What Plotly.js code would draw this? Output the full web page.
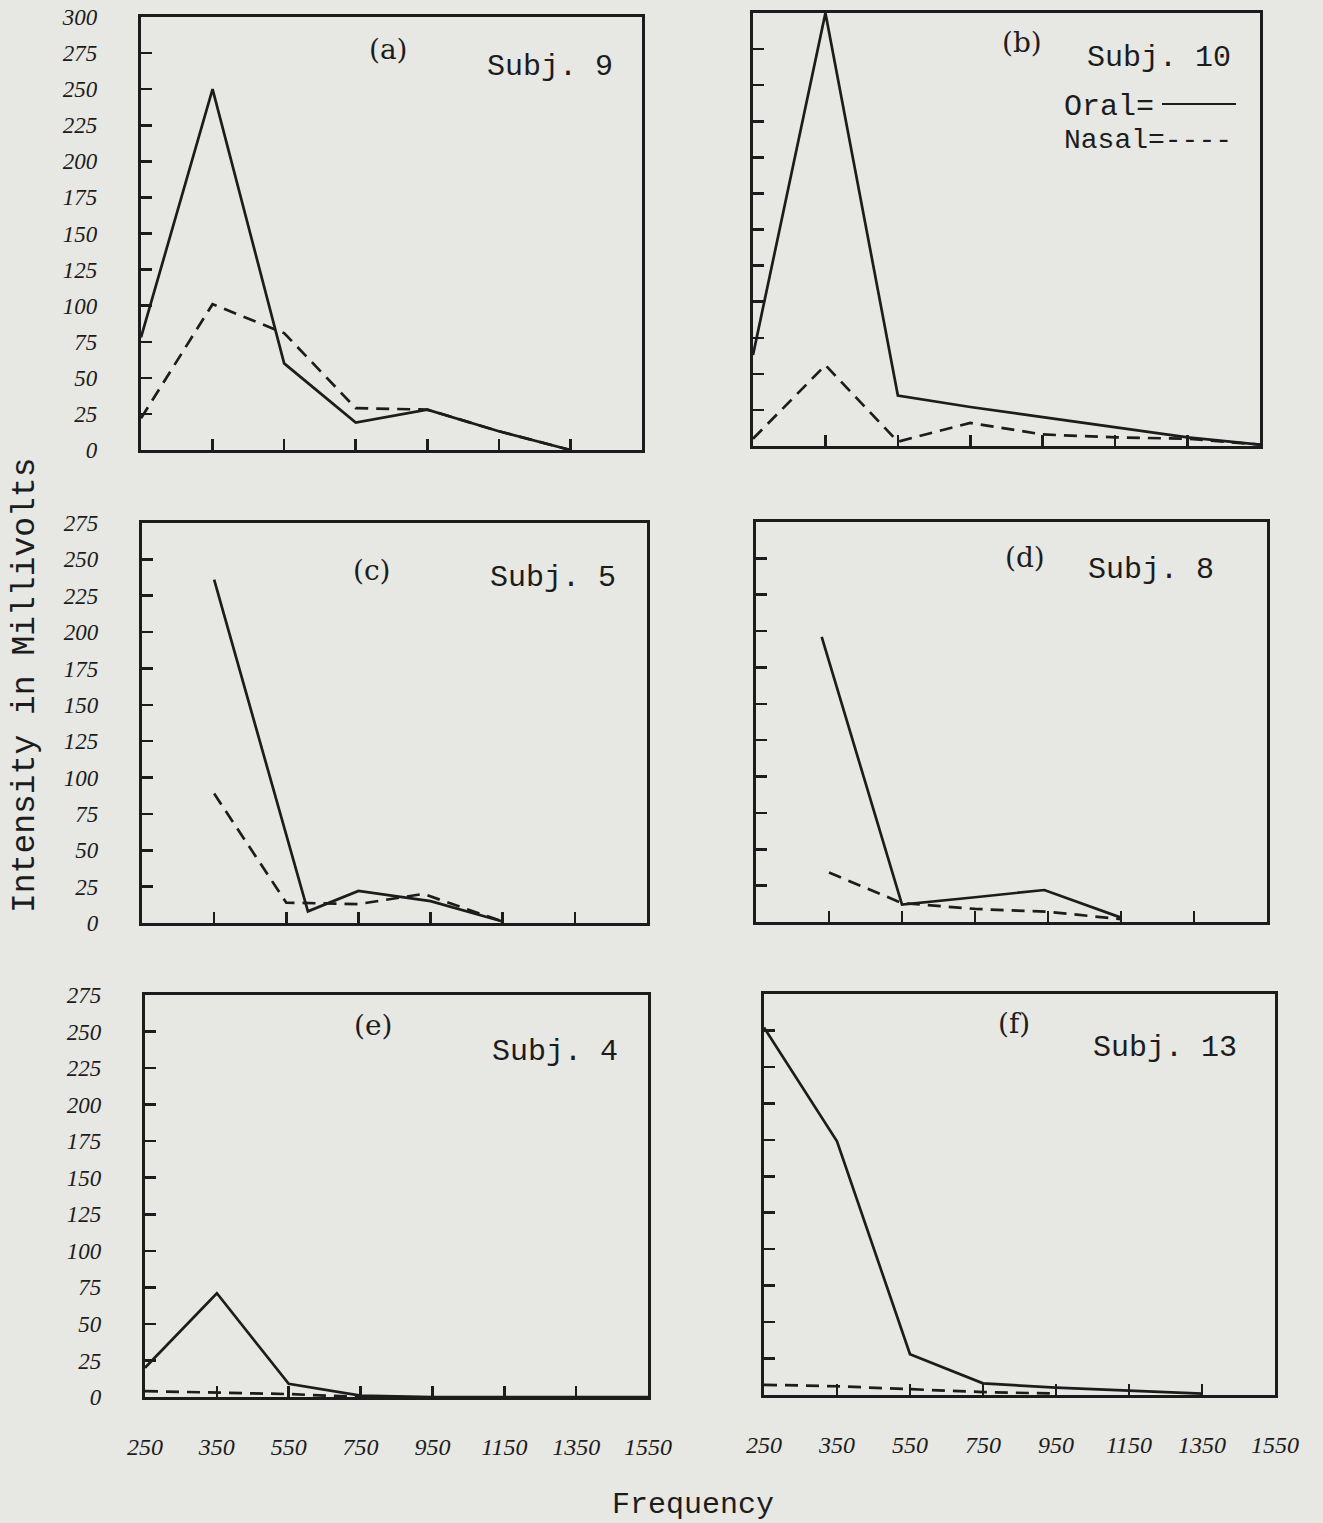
<!DOCTYPE html>
<html><head><meta charset="utf-8">
<script src="https://cdn.plot.ly/plotly-3.0.1.min.js"></script>
<style>html,body{margin:0;padding:0;background:#e7e7e3;}</style>
</head><body><div id="chart" style="width:1323px;height:1523px;"></div>
<script>
// ---- data (x given as position index on the frequency scale) ----
const freqLabels = ['250','350','550','750','950','1150','1350','1550'];
const yTicks300 = [0,25,50,75,100,125,150,175,200,225,250,275,300];
const yTicks275 = [0,25,50,75,100,125,150,175,200,225,250,275];

const oralA_x  = [0,1,2,3,4,5,6];
const oralA    = [78,250,60,19,28,13,0];
const nasalA_x = [0,1,2,3,4,5,6];
const nasalA   = [22,101,81,29,28,13,0];

const oralB_x  = [0,1,2,3,4,5,6,7];
const oralB    = [63,300,35,27,20,13,6,1];
const nasalB_x = [0,1,2,3,4,5,6,7];
const nasalB   = [5,56,3,16,8,6,5,1];

const oralC_x  = [1,2.3,3,4,5];
const oralC    = [236,8,22,15,1];
const nasalC_x = [1,2,3,3.9,5];
const nasalC   = [89,14,13,20,1];

const oralD_x  = [0.9,2,3,3.95,5];
const oralD    = [196,12,17,22,3];
const nasalD_x = [1,2,3,4,5];
const nasalD   = [34,13,9,7,2];

const oralE_x  = [0,1,2,3,4,5,6,7];
const oralE    = [20,71,9,1,0,0,0,0];
const nasalE_x = [0,1,2,3];
const nasalE   = [4,3,2,0];

const oralF_x  = [0,1,2,3,4,5,6];
const oralF    = [252,174,28,8,5,3,1];
const nasalF_x = [0,1,2,3,4];
const nasalF   = [7,6,4,2,1];

const panelNames = ['(a)','(b)','(c)','(d)','(e)','(f)'];
const subjNames  = ['Subj. 9','Subj. 10','Subj. 5','Subj. 8','Subj. 4','Subj. 13'];

// ---- layout helpers ----
const W = 1323, H = 1523;
const ink = '#1c1c1c';
const px = v => v / W;
const py = v => 1 - v / H;

const boxes = [
  [141, 642, 17, 450],
  [753, 1260, 13, 446],
  [142, 647, 523, 923],
  [756, 1267, 522, 922],
  [145, 648, 995, 1397],
  [764, 1275, 994, 1395]
];
const ymax = [300, 300, 275, 275, 275, 275];
const series = [
  [oralA_x, oralA, nasalA_x, nasalA],
  [oralB_x, oralB, nasalB_x, nasalB],
  [oralC_x, oralC, nasalC_x, nasalC],
  [oralD_x, oralD, nasalD_x, nasalD],
  [oralE_x, oralE, nasalE_x, nasalE],
  [oralF_x, oralF, nasalF_x, nasalF]
];

const yTickFont = {family: 'Liberation Serif', size: 23, color: ink, style: 'italic'};
const xTickFont = {family: 'Liberation Serif', size: 24, color: ink, style: 'italic'};
const monoFont = {family: 'Liberation Mono', size: 30, color: ink};
const handFont = {family: 'DejaVu Serif', size: 28, color: ink};

const data = [];
const layout = {
  width: W, height: H,
  margin: {l: 0, r: 0, t: 0, b: 0},
  paper_bgcolor: '#e7e7e3',
  plot_bgcolor: '#e7e7e3',
  showlegend: false,
  annotations: [],
  shapes: []
};

boxes.forEach((b, i) => {
  const n = i + 1;
  const xa = n === 1 ? 'x' : 'x' + n;
  const ya = n === 1 ? 'y' : 'y' + n;
  const s = series[i];
  data.push({x: s[0], y: s[1], xaxis: xa, yaxis: ya, mode: 'lines', name: 'Oral',
             line: {color: ink, width: 2.7}, hoverinfo: 'skip', cliponaxis: false});
  data.push({x: s[2], y: s[3], xaxis: xa, yaxis: ya, mode: 'lines', name: 'Nasal',
             line: {color: ink, width: 2.7, dash: '13px,8px'}, hoverinfo: 'skip', cliponaxis: false});
  const bottomRow = i >= 4;
  const leftCol = i % 2 === 0;
  const yt = ymax[i] === 300 ? yTicks300 : yTicks275;
  layout['xaxis' + (n === 1 ? '' : n)] = {
    domain: [px(b[0]), px(b[1])], anchor: ya, range: [0, 7],
    tickmode: 'array', tickvals: [0,1,2,3,4,5,6,7], ticktext: freqLabels,
    ticks: 'inside', ticklen: 11, tickwidth: 2.5, tickcolor: ink,
    showline: true, mirror: true, linewidth: 3.2, linecolor: ink,
    showgrid: false, zeroline: false, fixedrange: true,
    showticklabels: bottomRow, tickfont: xTickFont, ticklabelstandoff: 26
  };
  layout['yaxis' + (n === 1 ? '' : n)] = {
    domain: [py(b[3]), py(b[2])], anchor: xa, range: [0, ymax[i]],
    tickmode: 'array', tickvals: yt, ticktext: yt.map(String),
    ticks: 'inside', ticklen: 11, tickwidth: 2.5, tickcolor: ink,
    showline: true, mirror: true, linewidth: 3.2, linecolor: ink,
    showgrid: false, zeroline: false, fixedrange: true,
    showticklabels: leftCol, tickfont: yTickFont, ticklabelstandoff: 36
  };
});

const labelPos = [
  [388, 50, 550, 67],
  [1022, 42, 1159, 58],
  [372, 570, 553, 578],
  [1025, 557, 1151, 570],
  [373, 1025, 555, 1052],
  [1014, 1023, 1165, 1048]
];
labelPos.forEach((p, i) => {
  layout.annotations.push({xref: 'paper', yref: 'paper', x: px(p[0]), y: py(p[1]),
    text: panelNames[i], showarrow: false, font: handFont, xanchor: 'center', yanchor: 'middle'});
  layout.annotations.push({xref: 'paper', yref: 'paper', x: px(p[2]), y: py(p[3]),
    text: subjNames[i], showarrow: false, font: monoFont, xanchor: 'center', yanchor: 'middle'});
});

// legend in panel (b)
layout.annotations.push({xref: 'paper', yref: 'paper', x: px(1062), y: py(107),
  text: 'Oral=', showarrow: false, font: monoFont, xanchor: 'left', yanchor: 'middle'});
layout.annotations.push({xref: 'paper', yref: 'paper', x: px(1062), y: py(140),
  text: 'Nasal=----', showarrow: false, font: {family: 'Liberation Mono', size: 28, color: ink},
  xanchor: 'left', yanchor: 'middle'});
layout.shapes.push({type: 'line', xref: 'paper', yref: 'paper',
  x0: px(1162), x1: px(1236), y0: py(104), y1: py(104), line: {color: ink, width: 2}});

// axis titles
layout.annotations.push({xref: 'paper', yref: 'paper', x: px(693), y: py(1505),
  text: 'Frequency', showarrow: false, font: monoFont, xanchor: 'center', yanchor: 'middle'});
layout.annotations.push({xref: 'paper', yref: 'paper', x: px(25), y: py(686),
  text: 'Intensity in Millivolts', showarrow: false, textangle: -90,
  font: {family: 'Liberation Mono', size: 33, color: ink}, xanchor: 'center', yanchor: 'middle'});

Plotly.newPlot('chart', data, layout, {staticPlot: true, displayModeBar: false});
</script></body></html>
